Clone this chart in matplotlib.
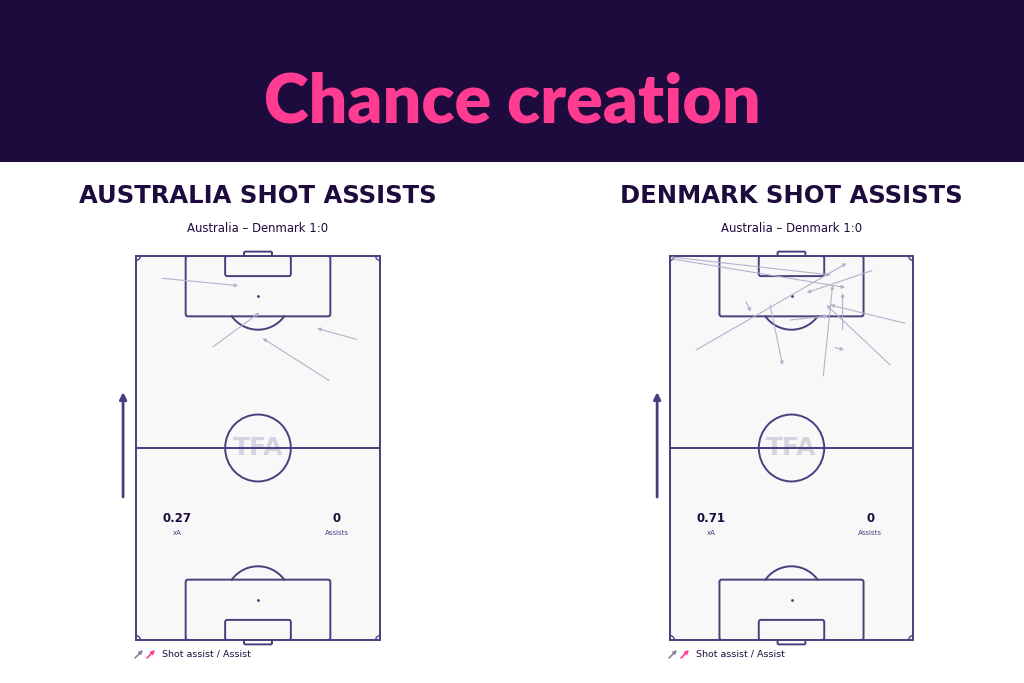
import numpy as np
import matplotlib.pyplot as plt
from matplotlib.patches import Rectangle, Circle, FancyBboxPatch, FancyArrowPatch

# data: shot assists (pitch metres, 68 x 105, attacking upwards)
teams = ['AUSTRALIA', 'DENMARK']
match_label = 'Australia – Denmark 1:0'
xa_values = ['0.27', '0.71']
assist_counts = ['0', '0']

aus_x0 = [7.3, 21.5, 61.5, 53.9]
aus_y0 = [98.9, 80.2, 82.2, 70.9]
aus_x1 = [28.5, 34.4, 50.5, 35.3]
aus_y1 = [96.9, 89.5, 85.2, 82.5]

den_x0 = [0.6, 0.6, 7.3, 56.5, 21.3, 28.0, 33.6, 65.8, 61.6, 42.9, 48.3, 46.2]
den_y0 = [104.7, 104.2, 79.3, 101.0, 92.5, 91.6, 87.5, 86.6, 75.2, 72.2, 84.8, 80.0]
den_x1 = [45.0, 49.0, 49.4, 38.3, 22.6, 31.5, 44.3, 44.8, 43.8, 45.5, 48.3, 48.7]
den_y1 = [99.8, 96.4, 103.0, 95.0, 89.8, 75.2, 88.6, 91.6, 91.6, 97.0, 94.8, 79.3]

dark = '#1e0b3d'
pink = '#ff3c91'
line_c = '#4c3d7d'
arrow_c = '#b8b0cc'

fig = plt.figure(figsize=(10.24, 6.83), dpi=100)
fig.patch.set_facecolor('white')

# header band
fig.add_artist(Rectangle((0, 1 - 162 / 683), 1, 162 / 683, transform=fig.transFigure,
                         facecolor=dark, edgecolor='none'))
fig.text(0.5, 1 - 103 / 683, 'Chance creation', color=pink, fontsize=49,
         fontweight='heavy', family='Lato', ha='center', va='center')


def draw_pitch(ax):
    lw = 1.4
    ax.add_patch(Rectangle((0, 0), 68, 105, facecolor='#f8f8f9', edgecolor=line_c,
                           lw=lw, clip_on=False))
    ax.plot([0, 68], [52.5, 52.5], color=line_c, lw=lw)
    ax.add_patch(Circle((34, 52.5), 9.15, fill=False, edgecolor=line_c, lw=lw))
    for top in [True, False]:
        if top:
            base, s = 105, -1
        else:
            base, s = 0, 1
        # penalty area
        ax.add_patch(FancyBboxPatch((34 - 20.16, min(base, base + s * 16.5)), 40.32, 16.5,
                                    boxstyle='round,pad=0,rounding_size=0.6',
                                    fill=False, edgecolor=line_c, lw=lw))
        ax.add_patch(FancyBboxPatch((34 - 9.16, min(base, base + s * 5.5)), 18.32, 5.5,
                                    boxstyle='round,pad=0,rounding_size=0.6',
                                    fill=False, edgecolor=line_c, lw=lw))
        # goal
        ax.add_patch(FancyBboxPatch((34 - 3.9, base if top else -1.2), 7.8, 1.2,
                                    boxstyle='round,pad=0,rounding_size=0.4',
                                    fill=False, edgecolor=line_c, lw=lw, clip_on=False))
        spot = base + s * 11
        ax.plot(34, spot, 'o', color=line_c, ms=1)
        # penalty arc (part outside the box)
        lim = np.degrees(np.arcsin(5.5 / 9.15))
        t = np.radians(np.linspace(lim, 180 - lim, 60))
        ax.plot(34 + 9.15 * np.cos(t), spot + s * 9.15 * np.sin(t), color=line_c, lw=lw)
    # corner arcs
    t = np.radians(np.linspace(0, 90, 20))
    for cx, cy, sx, sy in [(0, 0, 1, 1), (68, 0, -1, 1), (68, 105, -1, -1), (0, 105, 1, -1)]:
        ax.plot(cx + sx * 1.2 * np.cos(t), cy + sy * 1.2 * np.sin(t), color=line_c, lw=1)
    ax.text(34, 52.5, 'TFA', color='#d6d3e0', fontsize=18, fontweight='bold',
            ha='center', va='center', zorder=1.5)
    ax.set_xlim(0, 68)
    ax.set_ylim(0, 105)
    ax.axis('off')


panels = [(136, 244, aus_x0, aus_y0, aus_x1, aus_y1),
          (670, 243, den_x0, den_y0, den_x1, den_y1)]

for i, (left, width, x0, y0, x1, y1) in enumerate(panels):
    ax = fig.add_axes([left / 1024, 43 / 683, width / 1024, 384 / 683])
    draw_pitch(ax)
    for a, b, c, d in zip(x0, y0, x1, y1):
        ax.annotate('', xy=(c, d), xytext=(a, b),
                    arrowprops=dict(arrowstyle='-|>', color=arrow_c, lw=0.8,
                                    mutation_scale=5, shrinkA=0, shrinkB=0))
    # attacking direction
    ax.annotate('', xy=(-3.6, 67.8), xytext=(-3.6, 39.1), annotation_clip=False,
                arrowprops=dict(arrowstyle='-|>', color=line_c, lw=2,
                                mutation_scale=10, shrinkA=0, shrinkB=0))
    ax.text(11.4, 33.1, xa_values[i], color=dark, fontsize=8.5, fontweight='bold',
            ha='center', va='center')
    ax.text(11.4, 29.3, 'xA', color=line_c, fontsize=5, ha='center', va='center')
    ax.text(56.0, 33.1, assist_counts[i], color=dark, fontsize=8.5, fontweight='bold',
            ha='center', va='center')
    ax.text(56.0, 29.3, 'Assists', color=line_c, fontsize=5, ha='center', va='center')

    cx = (left + width / 2) / 1024
    fig.text(cx, 1 - 196 / 683, teams[i] + ' SHOT ASSISTS', color=dark, fontsize=17.5,
             fontweight='bold', ha='center', va='center')
    fig.text(cx, 1 - 228 / 683, match_label, color=dark, fontsize=8.4,
             ha='center', va='center')

    # legend
    lx = left - 1
    for k, col in enumerate(['#8c84a4', pink]):
        fig.add_artist(FancyArrowPatch(((lx + k * 12) / 1024, 1 - 658 / 683),
                                       ((lx + 8 + k * 12) / 1024, 1 - 650 / 683),
                                       transform=fig.transFigure, arrowstyle='-|>',
                                       color=col, lw=1.2, mutation_scale=5,
                                       shrinkA=0, shrinkB=0))
    fig.text((lx + 27) / 1024, 1 - 654 / 683, 'Shot assist / Assist', color=dark,
             fontsize=6.8, ha='left', va='center')

plt.savefig('out.png', dpi=100)
